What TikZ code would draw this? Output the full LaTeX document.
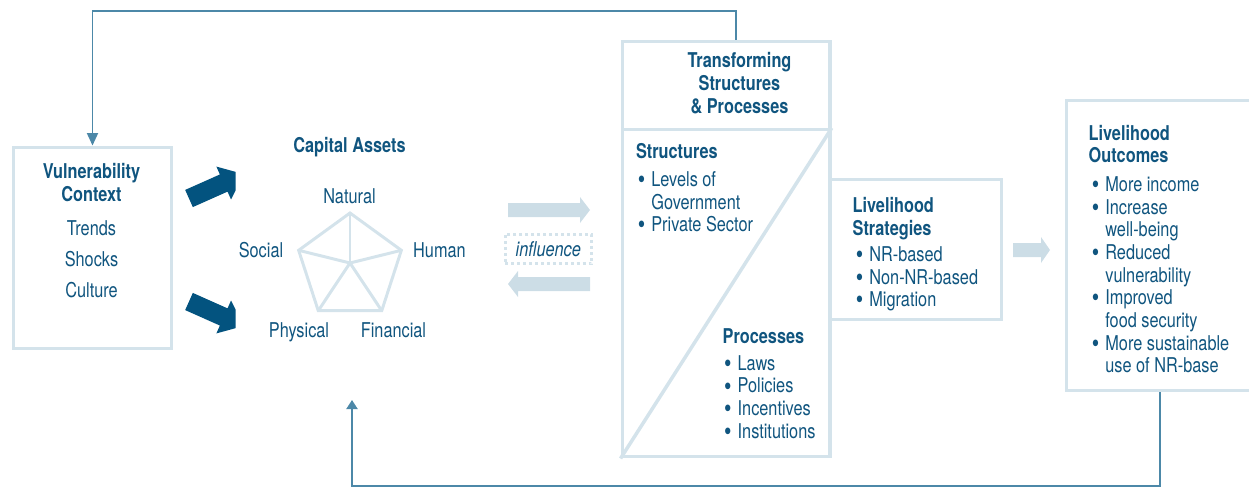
\documentclass[tikz,border=0pt]{standalone}
\usepackage{fontspec}
\setmainfont{TeX Gyre Heros}[FakeStretch=0.8]
\usepackage{tikz}
\usetikzlibrary{positioning}
\usetikzlibrary{calc}
\usetikzlibrary{fit}
\usetikzlibrary{arrows.meta}
\definecolor{txtblue}{HTML}{10557F}
\definecolor{arrdark}{HTML}{03537F}
\definecolor{boxlight}{HTML}{D4E3EB}
\definecolor{arrlight}{HTML}{CCDDE6}
\definecolor{fbline}{HTML}{4C88A8}
\newcommand{\lfsize}{\fontsize{11.6pt}{12.9pt}\selectfont}
\newcommand{\bul}{\makebox[0.27cm][l]{\raisebox{-0.1em}{\scalebox{1.3}{\textbullet}}}}
\newcommand{\nobul}{\hspace*{0.27cm}}

\begin{document}
\begin{tikzpicture}[
  x=0.02cm, y=-0.02cm,
  box/.style={
    draw=boxlight,
    line width=2pt,
    inner sep=0},
  txt/.style={
    text=txtblue,
    inner sep=0,
    font=\lfsize},
  hd/.style={
    txt,
    font=\lfsize\bfseries},
  lst/.style={
    txt,
    align=left,
    anchor=base west},
  pent/.style={
    draw=boxlight,
    line width=1.7pt},
  infl/.style={
    draw=boxlight,
    line width=1.7pt,
    dash pattern=on 1.7pt off 1.7pt,
    minimum width=1.73cm,
    minimum height=0.59cm,
    text=txtblue,
    font=\lfsize},
  fb/.style={
    draw=fbline,
    line width=1.1pt},
]

  \useasboundingbox (0,0) rectangle (1249,487);

  % Boxes
  \node[box, fit={(13.3,147.3) (171.7,348.3)}] (vul) {};
  \node[box, fit={(622.3,41.7) (830,129.7)}] (tsptop) {};
  \node[box, fit={(622.3,129.7) (830,456.7)}] (tspbot) {};
  \draw[box] (tspbot.north east) -- (tspbot.south west);
  \node[box, fit={(830,179.3) (1001.7,319.3)}] (strat) {};
  \node[box, fit={(1066.7,100.7) (1253,390.7)}] (out) {};

  % Vulnerability Context (multi-line nodes sit on their last baseline)
  \node[hd, align=center, anchor=base] (vulh) at (91.5,201.5) {Vulnerability\\Context};
  \foreach \word [count=\i from 0] in {Trends,Shocks,Culture} {
    \node[txt, anchor=base] (vul\word) at (91.5,{235+31*\i}) {\word};
  }

  % Dark arrows into the assets
  \begin{scope}
    \clip (0,0) rectangle (235.5,487);
    \foreach \ang/\ypos in {24/198.5,-24/301.5} {
      \fill[arrdark, shift={(189,\ypos)}, rotate=\ang]
        (0,-9.4) -- (38,-9.4) -- (38,-18) -- (60,0)
        -- (38,18) -- (38,9.4) -- (0,9.4) -- cycle;
    }
  \end{scope}

  % Capital Assets
  \node[hd, anchor=base] (caph) at (349.5,152) {Capital Assets};
  \coordinate (cap) at (350,267);
  \coordinate (hub) at (350,263);
  \foreach \name [count=\i from 0] in {nat,hum,fin,phy,soc} {
    \coordinate (\name) at ($(cap)+({-90+72*\i}:54)$);
  }
  \draw[pent] (nat) -- (hum) -- (fin) -- (phy) -- (soc) -- cycle;
  \foreach \name in {nat,hum,fin,phy,soc} {
    \draw[pent] (hub) -- (\name);
  }
  \node[txt, anchor=base] (natl) at (349.5,203) {Natural};
  \node[txt, anchor=base] (socl) at (261,257) {Social};
  \node[txt, anchor=base] (huml) at (439.5,257) {Human};
  \node[txt, anchor=base] (phyl) at (299,337) {Physical};
  \node[txt, anchor=base] (finl) at (393.5,337) {Financial};

  % Influence arrows
  \foreach \xa/\xb/\xc/\ym in {508/580/590/210, 590/518/508/284, 1013/1041/1050/250} {
    \fill[arrlight] (\xa,\ym-7) -- (\xb,\ym-7) -- (\xb,\ym-13) -- (\xc,\ym)
      -- (\xb,\ym+13) -- (\xb,\ym+7) -- (\xa,\ym+7) -- cycle;
  }
  \node[infl] (infl) at (548.3,249) {\textit{influence}};

  % Transforming Structures & Processes
  \node[hd, align=center, anchor=base] (tsph) at (739.5,113.3)
    {Transforming\\Structures\\\& Processes};
  \node[hd, anchor=base west] (strh) at (635.7,158.3) {Structures};
  \node[lst] (strl) at (637.5,231.7)
    {\bul Levels of\\\nobul Government\\\bul Private Sector};
  \node[hd, anchor=base west] (proh) at (722.3,343.3) {Processes};
  \node[lst] (prol) at (723.8,438.3)
    {\bul Laws\\\bul Policies\\\bul Incentives\\\bul Institutions};

  % Livelihood Strategies
  \node[hd, align=left, anchor=base west] (strath) at (852.3,235)
    {Livelihood\\Strategies};
  \node[lst] (stratl) at (855.5,306.7)
    {\bul NR-based\\\bul Non-NR-based\\\bul Migration};

  % Livelihood Outcomes
  \node[hd, align=left, anchor=base west] (outh) at (1088.3,162.7)
    {Livelihood\\Outcomes};
  \node[lst] (outl) at (1091.5,372.7)
    {\bul More income\\\bul Increase\\\nobul well-being\\\bul Reduced\\
     \nobul vulnerability\\\bul Improved\\\nobul food security\\
     \bul More sustainable\\\nobul use of NR-base};

  % Feedback lines
  \coordinate (fbtop) at (0,11);
  \coordinate (fbbot) at (0,486);
  \coordinate (fbend) at (352,400);
  \coordinate (fbstart) at ([xshift=0.2cm]tsptop.north);
  \draw[fb, -{Triangle[width=0.22cm,length=0.25cm]}]
    (fbstart) -- (fbstart |- fbtop) -| (vul.north);
  \draw[fb, -{Triangle[width=0.22cm,length=0.18cm]}]
    (out.south) -- (out.south |- fbbot) -| (fbend);

\end{tikzpicture}
\end{document}
